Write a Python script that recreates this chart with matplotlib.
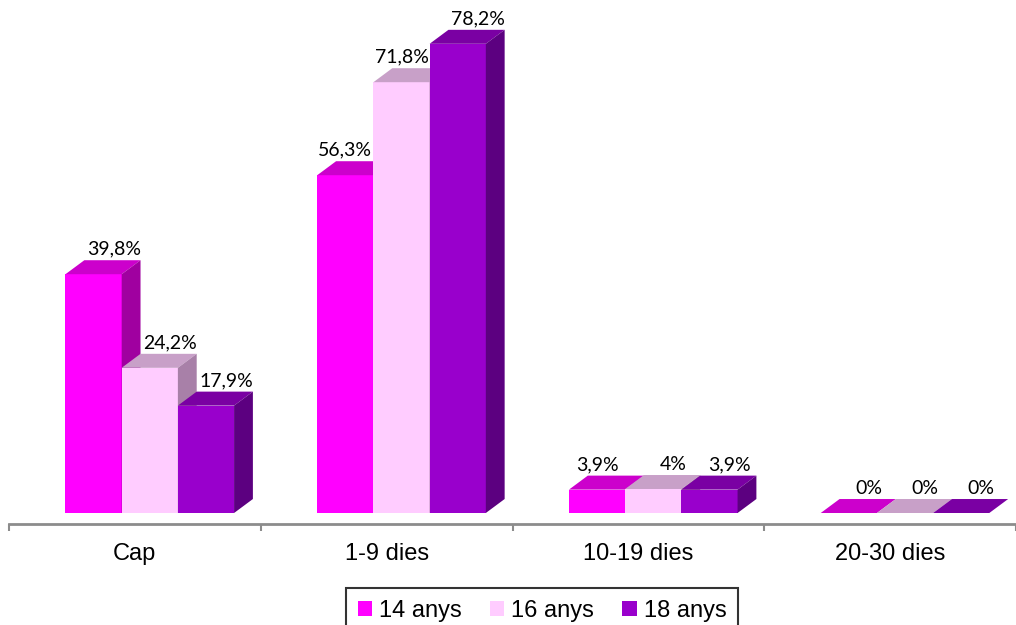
import matplotlib
matplotlib.use('Agg')
import matplotlib.pyplot as plt
from matplotlib.patches import Polygon, Patch

# data
categories = ['Cap', '1-9 dies', '10-19 dies', '20-30 dies']
series = ['14 anys', '16 anys', '18 anys']
anys14 = [39.8, 56.3, 3.9, 0]
anys16 = [24.2, 71.8, 4.0, 0]
anys18 = [17.9, 78.2, 3.9, 0]
labels14 = ['39,8%', '56,3%', '3,9%', '0%']
labels16 = ['24,2%', '71,8%', '4%', '0%']
labels18 = ['17,9%', '78,2%', '3,9%', '0%']

values = [anys14, anys16, anys18]
labels = [labels14, labels16, labels18]

# colours: front face, top face, side face
front = ['#FF00FF', '#FFCCFF', '#9900CC']
top = ['#CC00CC', '#C8A0C8', '#7A00A3']
side = ['#A000A0', '#A880A8', '#5C0080']

W, H = 1016, 625
fig = plt.figure(figsize=(W / 100, H / 100), dpi=100)
ax = fig.add_axes([9 / W, 101 / H, 1007 / W, 524 / H])
ax.set_xlim(0, 3.935)
ax.set_ylim(-11 / 6, 513 / 6)

w = 0.2232      # bar width (category units)
start = 0.2244  # gap before first bar
dx = 0.0748     # fake depth, horizontal
dy = 2.33       # fake depth, vertical (data units)

for j in range(3):
    xs = [i + start + j * w for i in range(len(categories))]
    ax.bar(xs, values[j], width=w, align='edge', color=front[j],
           linewidth=0, zorder=2 + j)
    for i, (x, v) in enumerate(zip(xs, values[j])):
        ax.add_patch(Polygon([(x, v), (x + w, v), (x + w + dx, v + dy), (x + dx, v + dy)],
                             closed=True, facecolor=top[j], edgecolor='none', zorder=2 + j))
        if v > 0:
            ax.add_patch(Polygon([(x + w, 0), (x + w + dx, dy), (x + w + dx, v + dy), (x + w, v)],
                                 closed=True, facecolor=side[j], edgecolor='none', zorder=2 + j))
        # label shifted right unless next bar is taller
        shift = 0.08
        if j < 2 and values[j + 1][i] > v:
            shift = 0.0
        ax.text(x + w / 2 + shift, v + dy + 0.4, labels[j][i], ha='center', va='bottom',
                fontsize=14, family='Lato', color='black', zorder=10)

for s in ['left', 'top', 'right']:
    ax.spines[s].set_visible(False)
ax.spines['bottom'].set_color('#8C8C8C')
ax.spines['bottom'].set_linewidth(2)
ax.set_yticks([])
ax.set_xticks(range(len(categories) + 1))
ax.set_xticklabels([])
ax.tick_params(axis='x', which='major', direction='out', length=5, width=1.5, color='#8C8C8C')
ax.set_xticks([i + 0.5 for i in range(len(categories))], minor=True)
ax.set_xticklabels(categories, minor=True, fontsize=17, family='Liberation Sans')
ax.tick_params(axis='x', which='minor', length=0, pad=14)
ax.patch.set_alpha(0)

handles = [Patch(facecolor=c, edgecolor='none') for c in front]
leg = fig.legend(handles, series, loc='upper center', bbox_to_anchor=(542 / W, 1 - 588 / H),
                 ncol=3, frameon=True, fancybox=False, edgecolor='black',
                 prop={'family': 'Liberation Sans', 'size': 17},
                 handlelength=0.6, handleheight=0.6, handletextpad=0.3,
                 columnspacing=1.2, borderpad=0.5, borderaxespad=0)
leg.get_frame().set_linewidth(1.5)

fig.savefig('out.png', dpi=100)
